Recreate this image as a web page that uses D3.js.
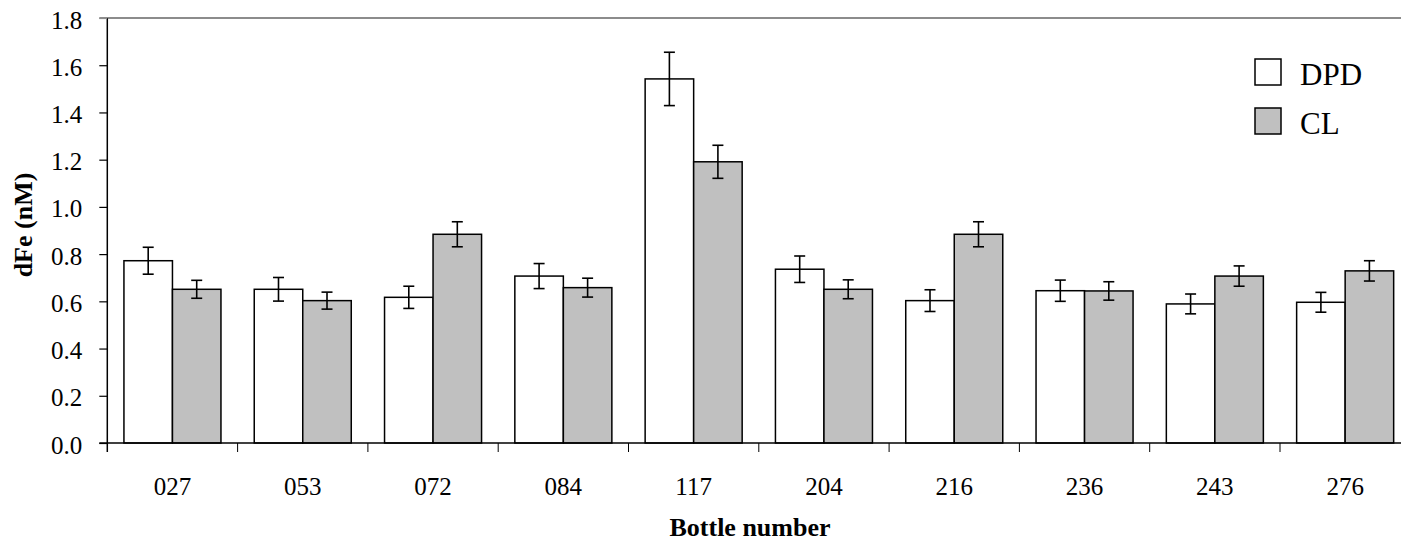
<!DOCTYPE html>
<html>
<head>
<meta charset="utf-8">
<script src="https://cdn.jsdelivr.net/npm/d3@7"></script>
<style>
  html, body { margin: 0; padding: 0; background: #fff; }
  svg { display: block; }
  svg text { font-family: "Liberation Serif", "Times New Roman", serif; fill: #000; }
</style>
</head>
<body>
<div id="chart"></div>
<script>
// bottle numbers and the two methods
const bottles = ['027', '053', '072', '084', '117', '204', '216', '236', '243', '276'];
const series = ['DPD', 'CL'];
const dpdValues = [0.772, 0.651, 0.617, 0.707, 1.542, 0.736, 0.603, 0.645, 0.589, 0.596];
const dpdErrors = [0.057, 0.050, 0.047, 0.053, 0.113, 0.056, 0.046, 0.045, 0.042, 0.042];
const clValues = [0.651, 0.603, 0.884, 0.658, 1.191, 0.651, 0.884, 0.644, 0.707, 0.729];
const clErrors = [0.038, 0.036, 0.053, 0.040, 0.070, 0.040, 0.053, 0.039, 0.043, 0.043];
const yTicks = [0, 0.2, 0.4, 0.6, 0.8, 1.0, 1.2, 1.4, 1.6, 1.8];

const width = 1401;
const height = 543;
const fills = {DPD: '#ffffff', CL: '#c0c0c0'};
const serif = '"Liberation Serif", "Times New Roman", serif';

const svg = d3.select('#chart').append('svg')
    .attr('width', width)
    .attr('height', height);

const plotLeft = 107.3;
const plotRight = 1410.3;
const plotTop = 18;
const plotBottom = 443;

const x0 = d3.scaleBand().domain(bottles).range([plotLeft, plotRight]).padding(0);
const x1 = d3.scaleBand().domain(series)
    .range([0, x0.bandwidth()])
    .paddingInner(0)
    .paddingOuter(0.343);
const y = d3.scaleLinear().domain([0, 1.8]).range([plotBottom, plotTop]);

const rows = bottles.map((b, i) => ({
  bottle: b,
  values: [
    {key: 'DPD', value: dpdValues[i], err: dpdErrors[i]},
    {key: 'CL', value: clValues[i], err: clErrors[i]},
  ],
}));

// top border of the plot area
svg.append('line')
    .attr('x1', plotLeft - 8).attr('x2', plotRight)
    .attr('y1', y(1.8)).attr('y2', y(1.8))
    .attr('stroke', '#8c8c8c')
    .attr('stroke-width', 2);

// bars
const groups = svg.append('g').attr('name', 'bars')
    .selectAll('g')
    .data(rows)
    .enter()
    .append('g')
    .attr('transform', (d) => `translate(${x0(d.bottle)},0)`);

groups.selectAll('rect')
    .data((d) => d.values)
    .enter()
    .append('rect')
    .attr('x', (d) => x1(d.key))
    .attr('y', (d) => y(d.value))
    .attr('width', x1.bandwidth())
    .attr('height', (d) => y(0) - y(d.value))
    .attr('fill', (d) => fills[d.key])
    .attr('stroke', '#000')
    .attr('stroke-width', 1.5);

// error bars
const capHalf = 5.5;
const err = groups.selectAll('g.err')
    .data((d) => d.values)
    .enter()
    .append('g')
    .classed('err', true)
    .attr('stroke', '#000')
    .attr('stroke-width', 1.6);
err.append('line')
    .attr('x1', (d) => x1(d.key) + x1.bandwidth() / 2)
    .attr('x2', (d) => x1(d.key) + x1.bandwidth() / 2)
    .attr('y1', (d) => y(d.value + d.err))
    .attr('y2', (d) => y(d.value - d.err));
err.append('line')
    .attr('x1', (d) => x1(d.key) + x1.bandwidth() / 2 - capHalf)
    .attr('x2', (d) => x1(d.key) + x1.bandwidth() / 2 + capHalf)
    .attr('y1', (d) => y(d.value + d.err))
    .attr('y2', (d) => y(d.value + d.err));
err.append('line')
    .attr('x1', (d) => x1(d.key) + x1.bandwidth() / 2 - capHalf)
    .attr('x2', (d) => x1(d.key) + x1.bandwidth() / 2 + capHalf)
    .attr('y1', (d) => y(d.value - d.err))
    .attr('y2', (d) => y(d.value - d.err));

// y axis
const yAxis = svg.append('g')
    .attr('transform', `translate(${plotLeft},0)`)
    .call(d3.axisLeft(y).tickValues(yTicks).tickFormat(d3.format('.1f'))
        .tickSizeInner(8).tickSizeOuter(0).tickPadding(17));
yAxis.select('.domain').attr('stroke', '#000').attr('stroke-width', 1.5)
    .attr('d', `M0,${y(1.8)}V${plotBottom + 9}`);
yAxis.selectAll('.tick line').attr('stroke', '#000').attr('stroke-width', 1.2);
yAxis.selectAll('.tick').filter((d) => d === 1.8).select('line').attr('stroke', '#8c8c8c');
yAxis.selectAll('.tick text')
    .style('font-family', serif)
    .style('font-size', '25px')
    .attr('dy', '0.4em');

// x axis
const xAxis = svg.append('g')
    .attr('transform', `translate(0,${plotBottom})`)
    .call(d3.axisBottom(x0).tickSize(0).tickPadding(0));
xAxis.select('.domain').attr('stroke', '#000').attr('stroke-width', 1.5)
    .attr('d', `M${plotLeft - 8},0H${plotRight}`);
xAxis.selectAll('.tick text')
    .style('font-family', serif)
    .style('font-size', '25px')
    .attr('y', 52)
    .attr('dy', 0);
svg.append('g').attr('name', 'x_ticks')
    .selectAll('line')
    .data(bottles.slice(1))
    .enter()
    .append('line')
    .attr('x1', (d) => x0(d)).attr('x2', (d) => x0(d))
    .attr('y1', plotBottom).attr('y2', plotBottom + 9)
    .attr('stroke', '#000')
    .attr('stroke-width', 1);

// axis titles
svg.append('text')
    .attr('x', 750)
    .attr('y', 536)
    .attr('text-anchor', 'middle')
    .style('font-size', '26px')
    .style('font-weight', 'bold')
    .text('Bottle number');
svg.append('text')
    .attr('transform', 'translate(32,225) rotate(-90)')
    .attr('text-anchor', 'middle')
    .style('font-size', '26px')
    .style('font-weight', 'bold')
    .text('dFe (nM)');

// legend
const legend = svg.append('g').attr('name', 'legend')
    .selectAll('g')
    .data(series)
    .enter()
    .append('g')
    .attr('transform', (d, i) => `translate(1255,${59 + i * 49})`);
legend.append('rect')
    .attr('width', 26).attr('height', 26)
    .attr('fill', (d) => fills[d])
    .attr('stroke', '#000')
    .attr('stroke-width', 1.5);
legend.append('text')
    .attr('x', 45)
    .attr('y', 26)
    .style('font-size', '31px')
    .text((d) => d);
</script>
</body>
</html>
